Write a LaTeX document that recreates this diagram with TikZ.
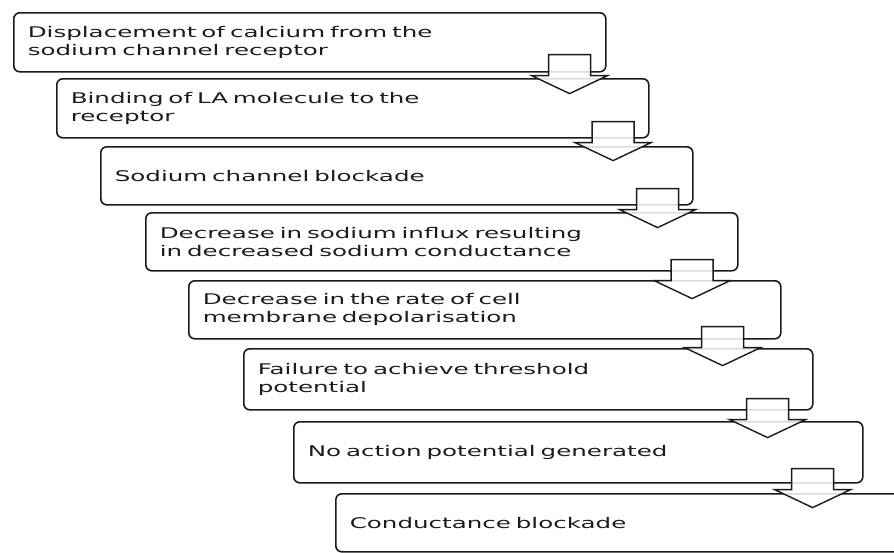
\documentclass[tikz,border=0pt]{standalone}
\usepackage{fontspec}
\newfontfamily\boxfont[FakeStretch=1.67]{DejaVu Sans}
\usetikzlibrary{calc}
\definecolor{linecol}{HTML}{1A1A1A}
\definecolor{textcol}{HTML}{1C1C1C}
\tikzset{
  stepbox/.style={draw=linecol, line width=1.6pt, rounded corners=6pt, anchor=north west,
    inner xsep=14pt, inner ysep=0pt, align=left, text=textcol,
    font=\boxfont\fontsize{14.7}{18}\selectfont},
  blockarrow/.style={draw=linecol, line width=1.4pt, fill=white, fill opacity=0.85, line join=miter},
  downarrow/.pic={\path[blockarrow] (-21,0) -- (21,0) -- (21,21) -- (38,21) -- (0,39) -- (-38,21) -- (-21,21) -- cycle;}
}
\begin{document}
\begin{tikzpicture}[x=1pt,y=-1pt]
\useasboundingbox (0,0) rectangle (894,552);
\clip (0,0) rectangle (894,552);
\node[stepbox, minimum height=59pt, text width=564pt] (b1) at (13,12) {Displacement of calcium from the\\sodium channel receptor};
\node[stepbox, minimum height=59pt, text width=564pt] (b2) at (56,78) {Binding of LA molecule to the\\receptor};
\node[stepbox, minimum height=58pt, text width=564pt] (b3) at (100,146) {Sodium channel blockade};
\node[stepbox, minimum height=58pt, text width=564pt] (b4) at (145,212) {Decrease in sodium influx resulting\\in decreased sodium conductance};
\node[stepbox, minimum height=58pt, text width=564pt] (b5) at (188,280) {Decrease in the rate of cell\\membrane depolarisation};
\node[stepbox, minimum height=61pt, text width=541pt] (b6) at (243,348) {Failure to achieve threshold\\potential};
\node[stepbox, minimum height=61pt, text width=541pt] (b7) at (293,421) {No action potential generated};
\node[stepbox, minimum height=58pt, text width=572pt] (b8) at (335,493) {Conductance blockade};
\pic (a1) at ($(b1.south east)+(-37,-18)$) {downarrow};
\pic (a2) at ($(b2.south east)+(-36.5,-17)$) {downarrow};
\pic (a3) at ($(b3.south east)+(-36,-17)$) {downarrow};
\pic (a4) at ($(b4.south east)+(-46.5,-12)$) {downarrow};
\pic (a5) at ($(b5.south east)+(-59,-13)$) {downarrow};
\pic (a6) at ($(b6.south east)+(-46,-12)$) {downarrow};
\pic (a7) at ($(b7.south east)+(-51,-15)$) {downarrow};
\end{tikzpicture}
\end{document}
